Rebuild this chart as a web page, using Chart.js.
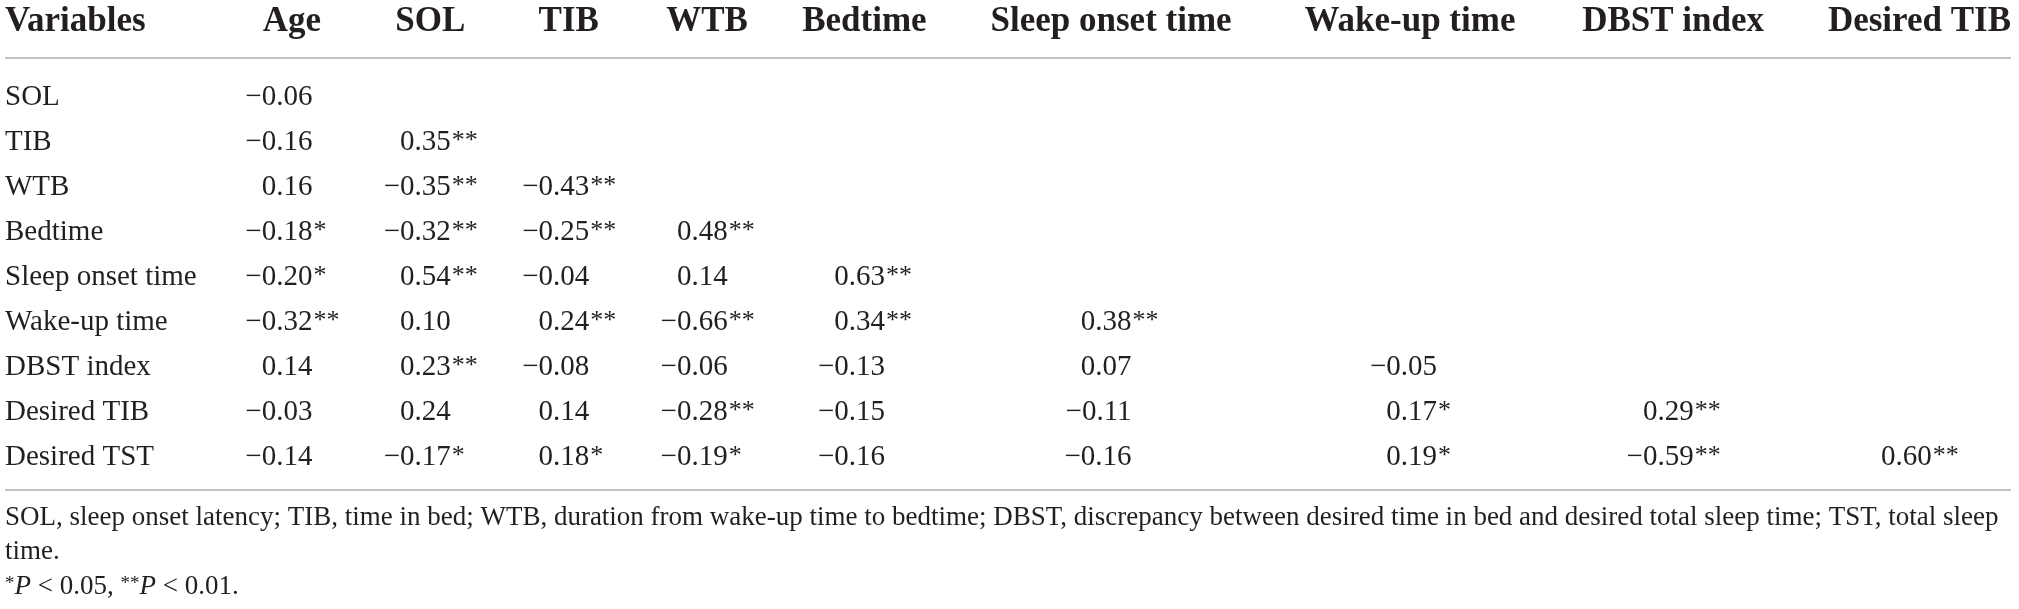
<!DOCTYPE html>
<html>
<head>
<meta charset="utf-8">
<script src="https://cdn.jsdelivr.net/npm/chart.js@4.4.1/dist/chart.umd.min.js"></script>
<style>
html,body{margin:0;padding:0;background:#ffffff;}
#wrap{width:2019px;height:609px;position:relative;}
</style>
</head>
<body>
<div id="wrap"><canvas id="c"></canvas></div>
<script>
// ---------- data ----------
const headerTitle = 'Variables';
const columns = ['Age', 'SOL', 'TIB', 'WTB', 'Bedtime', 'Sleep onset time', 'Wake-up time', 'DBST index', 'Desired TIB'];
const rows = ['SOL', 'TIB', 'WTB', 'Bedtime', 'Sleep onset time', 'Wake-up time', 'DBST index', 'Desired TIB', 'Desired TST'];

const r_SOL        = [-0.06];
const r_TIB        = [-0.16, 0.35];
const r_WTB        = [0.16, -0.35, -0.43];
const r_Bedtime    = [-0.18, -0.32, -0.25, 0.48];
const r_SleepOnset = [-0.20, 0.54, -0.04, 0.14, 0.63];
const r_WakeUp     = [-0.32, 0.10, 0.24, -0.66, 0.34, 0.38];
const r_DBST       = [0.14, 0.23, -0.08, -0.06, -0.13, 0.07, -0.05];
const r_DesiredTIB = [-0.03, 0.24, 0.14, -0.28, -0.15, -0.11, 0.17, 0.29];
const r_DesiredTST = [-0.14, -0.17, 0.18, -0.19, -0.16, -0.16, 0.19, -0.59, 0.60];

const s_SOL        = [''];
const s_TIB        = ['', '**'];
const s_WTB        = ['', '**', '**'];
const s_Bedtime    = ['*', '**', '**', '**'];
const s_SleepOnset = ['*', '**', '', '', '**'];
const s_WakeUp     = ['**', '', '**', '**', '**', '**'];
const s_DBST       = ['', '**', '', '', '', '', ''];
const s_DesiredTIB = ['', '', '', '**', '', '', '*', '**'];
const s_DesiredTST = ['', '*', '*', '*', '', '', '*', '**', '**'];

const footnote1 = 'SOL, sleep onset latency; TIB, time in bed; WTB, duration from wake-up time to bedtime; DBST, discrepancy between desired time in bed and desired total sleep time; TST, total sleep';
const footnote2 = 'time.';
const footnote3 = [
  {t: '*', sup: true}, {t: 'P', it: true}, {t: ' < 0.05, '},
  {t: '**', sup: true}, {t: 'P', it: true}, {t: ' < 0.01.'}
];

const values = [r_SOL, r_TIB, r_WTB, r_Bedtime, r_SleepOnset, r_WakeUp, r_DBST, r_DesiredTIB, r_DesiredTST];
const stars  = [s_SOL, s_TIB, s_WTB, s_Bedtime, s_SleepOnset, s_WakeUp, s_DBST, s_DesiredTIB, s_DesiredTST];

// ---------- style ----------
const FAM = '"Liberation Serif", "Times New Roman", serif';
const bodyFont = '29px ' + FAM;
const headFont = 'bold 35px ' + FAM;
const starFont = '26px ' + FAM;
const noteFont = '27px ' + FAM;
const noteItFont = 'italic 27px ' + FAM;
const noteSupFont = '19px ' + FAM;
const INK = '#231f20';
const RULE = '#c2c2c2';

// vertical placement in row units (row i sits at value i)
const Y_MIN = -2.156, Y_MAX = 11.378;
const HEADER_ROW = -1.667, TOP_RULE = -0.867, BOTTOM_RULE = 8.733;
const NOTE_ROWS = [9.356, 10.11, 10.89];

const fmt = v => (v < 0 ? '\u2212' : '') + Math.abs(v).toFixed(2);

// ---------- automatic column layout (table-style: extra width shared in proportion to content) ----------
const W = 2019, LEFT = 5, RIGHT = 2011, PAD = 26;
const mc = document.createElement('canvas').getContext('2d');
function tw(font, s) { mc.font = font; return mc.measureText(s).width; }

const labelW = Math.max(tw(headFont, headerTitle), ...rows.map(r => tw(bodyFont, r)));
const cols = columns.map((h, j) => {
  let numW = 0, starW = 0;
  values.forEach((row, i) => {
    if (j < row.length) {
      numW = Math.max(numW, tw(bodyFont, fmt(row[j])));
      starW = Math.max(starW, tw(starFont, stars[i][j]));
    }
  });
  const blockW = numW + starW;
  const headW = tw(headFont, h);
  return {blockW, starW, headW, c: Math.max(blockW, headW)};
});
const n = cols.length;
const lastC = cols[n - 1].c;
const S = cols.slice(0, n - 1).reduce((a, c) => a + c.c, 0) + lastC / 2;
const k = (RIGHT - lastC / 2 - LEFT - (labelW + PAD) - PAD * (n - 0.5)) / S;
let cursor = LEFT + labelW + PAD;
cols.forEach(c => {
  c.w = k * c.c + PAD;
  c.center = cursor + c.w / 2;
  c.numRight = c.center + c.blockW / 2 - c.starW;
  cursor += c.w;
});

const datasets = columns.map((h, j) => ({
  label: h,
  data: values.map((row, i) => j < row.length ? {x: cols[j].numRight, y: i, v: row[j], s: stars[i][j]} : null).filter(Boolean),
  pointRadius: 0,
  pointHoverRadius: 0,
  showLine: false
}));

const tablePlugin = {
  id: 'tableText',
  afterDatasetsDraw(chart) {
    const {ctx, scales: {x, y}} = chart;
    ctx.save();
    ctx.fillStyle = INK;
    ctx.textBaseline = 'middle';

    // header
    const hy = y.getPixelForValue(HEADER_ROW);
    ctx.font = headFont;
    ctx.textAlign = 'left';
    ctx.fillText(headerTitle, x.getPixelForValue(LEFT), hy);
    ctx.textAlign = 'center';
    columns.forEach((h, j) => ctx.fillText(h, x.getPixelForValue(cols[j].center), hy));

    // rules
    ctx.strokeStyle = RULE;
    ctx.lineWidth = 2;
    [TOP_RULE, BOTTOM_RULE].forEach(v => {
      const py = Math.round(y.getPixelForValue(v));
      ctx.beginPath();
      ctx.moveTo(x.getPixelForValue(LEFT), py);
      ctx.lineTo(x.getPixelForValue(RIGHT), py);
      ctx.stroke();
    });

    // row labels
    ctx.font = bodyFont;
    ctx.textAlign = 'left';
    rows.forEach((r, i) => ctx.fillText(r, x.getPixelForValue(LEFT), y.getPixelForValue(i)));

    // cells
    chart.data.datasets.forEach((ds, j) => {
      chart.getDatasetMeta(j).data.forEach((el, kk) => {
        const d = ds.data[kk];
        ctx.font = bodyFont;
        ctx.textAlign = 'right';
        ctx.fillText(fmt(d.v), el.x, el.y);
        if (d.s) {
          ctx.font = starFont;
          ctx.textAlign = 'left';
          ctx.fillText(d.s, el.x + 1, el.y - 1);
        }
      });
    });

    // footnotes
    ctx.textAlign = 'left';
    ctx.font = noteFont;
    ctx.fillText(footnote1, x.getPixelForValue(LEFT), y.getPixelForValue(NOTE_ROWS[0]));
    ctx.fillText(footnote2, x.getPixelForValue(LEFT), y.getPixelForValue(NOTE_ROWS[1]));
    let px = x.getPixelForValue(LEFT);
    const py3 = y.getPixelForValue(NOTE_ROWS[2]);
    footnote3.forEach(seg => {
      ctx.font = seg.sup ? noteSupFont : (seg.it ? noteItFont : noteFont);
      ctx.fillText(seg.t, px, seg.sup ? py3 - 3 : py3);
      px += ctx.measureText(seg.t).width;
    });
    ctx.restore();
  }
};

new Chart(document.getElementById('c'), {
  type: 'scatter',
  data: {datasets},
  options: {
    responsive: true,
    maintainAspectRatio: false,
    animation: false,
    events: [],
    layout: {padding: 0},
    plugins: {legend: {display: false}, tooltip: {enabled: false}, title: {display: false}},
    scales: {
      x: {type: 'linear', min: 0, max: W, display: false},
      y: {type: 'linear', min: Y_MIN, max: Y_MAX, reverse: true, display: false}
    }
  },
  plugins: [tablePlugin]
});
</script>
</body>
</html>
